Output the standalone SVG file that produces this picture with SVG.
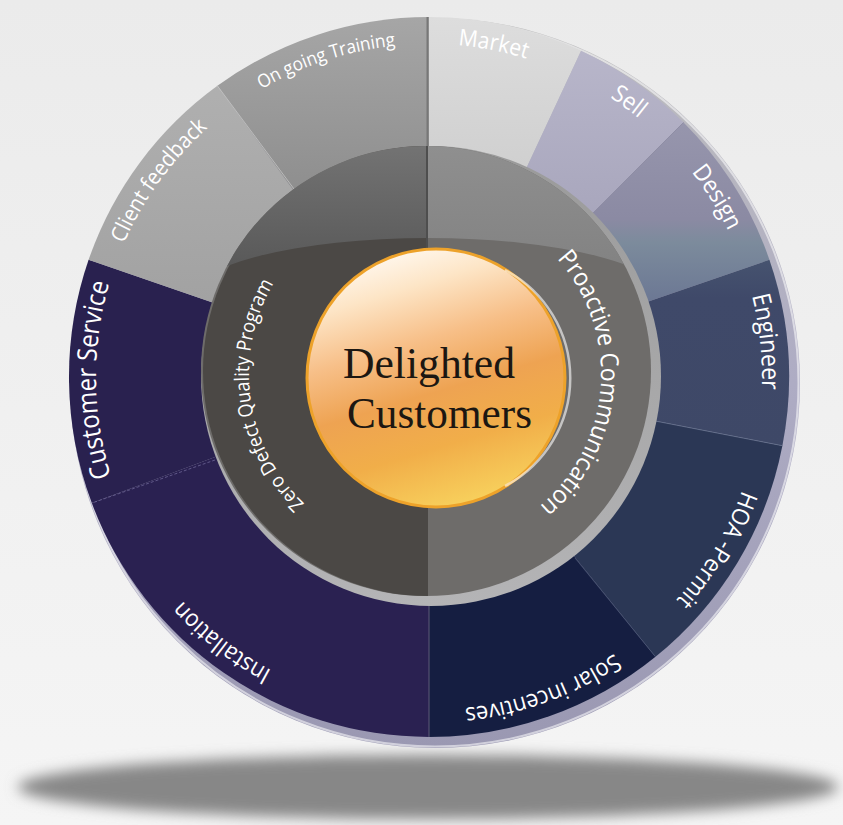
<svg xmlns="http://www.w3.org/2000/svg" xmlns:xlink="http://www.w3.org/1999/xlink" width="843" height="825" viewBox="0 0 843 825">
  <defs>
    <style>
      .lbl { font-family: "Open Sans", "Noto Sans", "DejaVu Sans", sans-serif; fill: #ffffff; }
      .core { font-family: "Liberation Serif", "DejaVu Serif", serif; fill: #1c1712; }
    </style>
    <linearGradient id="bg" x1="0" y1="0" x2="0" y2="1">
      <stop offset="0" stop-color="#ebebeb"/>
      <stop offset="1" stop-color="#f5f5f5"/>
    </linearGradient>
    <filter id="soft" x="-10%" y="-60%" width="120%" height="220%">
      <feGaussianBlur stdDeviation="7"/>
    </filter>
    <linearGradient id="rimG" gradientUnits="userSpaceOnUse" x1="0" y1="20" x2="0" y2="748">
      <stop offset="0" stop-color="#bdbdbd"/>
      <stop offset="0.5" stop-color="#aeacc4"/>
      <stop offset="1" stop-color="#9a98b2"/>
    </linearGradient>
    <linearGradient id="gMarket" gradientUnits="userSpaceOnUse" x1="0" y1="17" x2="0" y2="200">
      <stop offset="0" stop-color="#dddddd"/>
      <stop offset="1" stop-color="#cdcdcd"/>
    </linearGradient>
    <linearGradient id="gSell" gradientUnits="userSpaceOnUse" x1="0" y1="50" x2="0" y2="260">
      <stop offset="0" stop-color="#b8b6ca"/>
      <stop offset="1" stop-color="#a4a2b9"/>
    </linearGradient>
    <linearGradient id="gDesign" gradientUnits="userSpaceOnUse" x1="0" y1="120" x2="0" y2="300">
      <stop offset="0" stop-color="#9796ad"/>
      <stop offset="0.55" stop-color="#8b8aa3"/>
      <stop offset="0.68" stop-color="#7c8b9c"/>
      <stop offset="1" stop-color="#6c7894"/>
    </linearGradient>
    <linearGradient id="gEng" gradientUnits="userSpaceOnUse" x1="0" y1="260" x2="0" y2="450">
      <stop offset="0" stop-color="#46536f"/>
      <stop offset="0.2" stop-color="#3f4969"/>
      <stop offset="1" stop-color="#3e4867"/>
    </linearGradient>
    <linearGradient id="gClient" gradientUnits="userSpaceOnUse" x1="0" y1="80" x2="0" y2="300">
      <stop offset="0" stop-color="#b0b0b0"/>
      <stop offset="1" stop-color="#a2a2a2"/>
    </linearGradient>
    <linearGradient id="gTrain" gradientUnits="userSpaceOnUse" x1="0" y1="17" x2="0" y2="200">
      <stop offset="0" stop-color="#a6a6a6"/>
      <stop offset="1" stop-color="#8d8d8d"/>
    </linearGradient>
    <linearGradient id="ringRim" gradientUnits="userSpaceOnUse" x1="0" y1="146" x2="0" y2="606">
      <stop offset="0" stop-color="#9a9a9a"/>
      <stop offset="1" stop-color="#b4b4b6"/>
    </linearGradient>
    <linearGradient id="hiL" gradientUnits="userSpaceOnUse" x1="0" y1="146" x2="0" y2="280">
      <stop offset="0" stop-color="#737373"/>
      <stop offset="1" stop-color="#565656"/>
    </linearGradient>
    <linearGradient id="hiR" gradientUnits="userSpaceOnUse" x1="0" y1="146" x2="0" y2="280">
      <stop offset="0" stop-color="#8f8f8f"/>
      <stop offset="1" stop-color="#818181"/>
    </linearGradient>
    <linearGradient id="gold" x1="0.35" y1="0" x2="0.65" y2="1">
      <stop offset="0" stop-color="#fff8ef"/>
      <stop offset="0.15" stop-color="#fde5c6"/>
      <stop offset="0.35" stop-color="#f7bf88"/>
      <stop offset="0.55" stop-color="#eea352"/>
      <stop offset="0.75" stop-color="#f1ae49"/>
      <stop offset="1" stop-color="#f8d35e"/>
    </linearGradient>
    <clipPath id="ringClip">
      <circle cx="426" cy="371" r="225"/>
    </clipPath>
    <!-- label baselines, drawn clockwise from 12 o'clock -->
    <path id="outerPath" d="M429,44 A333,333 0 1 1 429,710 A333,333 0 1 1 429,44"/>
    <path id="zeroPath" d="M428,195 A179,179 0 1 1 428,553 A179,179 0 1 1 428,195"/>
    <path id="proPath" d="M428,201 A173,173 0 1 1 428,547 A173,173 0 1 1 428,201"/>
  </defs>

  <rect width="843" height="825" fill="url(#bg)"/>

  <!-- floor shadow -->
  <ellipse cx="428" cy="787" rx="410" ry="32" fill="#878787" filter="url(#soft)"/>

  <!-- disc edge -->
  <circle cx="435" cy="383" r="365" fill="url(#rimG)"/>
  <circle cx="435" cy="383" r="363.5" fill="none" stroke="#ffffff" stroke-opacity="0.55" stroke-width="2"/>

  <!-- outer ring of steps -->
  <g id="outer-ring">
    <g id="seg-market">
      <path d="M429,377 L429,17 A360,360 0 0 1 581.1,50.7 Z" fill="url(#gMarket)"/>
      <text class="lbl" font-size="23" text-anchor="middle"><textPath href="#outerPath" startOffset="3.06%" textLength="70" lengthAdjust="spacingAndGlyphs">Market</textPath></text>
    </g>
    <g id="seg-sell">
      <path d="M429,377 L581.1,50.7 A360,360 0 0 1 683.6,122.4 Z" fill="url(#gSell)"/>
      <text class="lbl" font-size="24" text-anchor="middle"><textPath href="#outerPath" startOffset="10%" textLength="36" lengthAdjust="spacingAndGlyphs">Sell</textPath></text>
    </g>
    <g id="seg-design">
      <path d="M429,377 L683.6,122.4 A360,360 0 0 1 769.4,259.8 Z" fill="url(#gDesign)"/>
      <text class="lbl" font-size="24" text-anchor="middle"><textPath href="#outerPath" startOffset="16.11%" textLength="70" lengthAdjust="spacingAndGlyphs">Design</textPath></text>
    </g>
    <g id="seg-engineer">
      <path d="M429,377 L769.4,259.8 A360,360 0 0 1 782.4,445.7 Z" fill="url(#gEng)"/>
      <text class="lbl" font-size="25" text-anchor="middle"><textPath href="#outerPath" startOffset="23.33%" textLength="95" lengthAdjust="spacingAndGlyphs">Engineer</textPath></text>
    </g>
    <g id="seg-hoa">
      <path d="M429,377 L782.4,445.7 A360,360 0 0 1 655.5,656.8 Z" fill="#2b3755"/>
      <text class="lbl" font-size="24" text-anchor="middle"><textPath href="#outerPath" startOffset="33.61%" textLength="129" lengthAdjust="spacingAndGlyphs">HOA -Permit</textPath></text>
    </g>
    <g id="seg-solar">
      <path d="M429,377 L655.5,656.8 A360,360 0 0 1 429,737 Z" fill="#151e41"/>
      <text class="lbl" font-size="24" text-anchor="middle"><textPath href="#outerPath" startOffset="44.44%" textLength="161" lengthAdjust="spacingAndGlyphs">Solar incentives</textPath></text>
    </g>
    <g id="seg-installation">
      <path d="M429,377 L429,737 A360,360 0 0 1 91.8,503.1 Z" fill="#2a2151"/>
      <text class="lbl" font-size="24" text-anchor="middle"><textPath href="#outerPath" startOffset="60.56%" textLength="114" lengthAdjust="spacingAndGlyphs">Installation</textPath></text>
    </g>
    <g id="seg-customer-service">
      <path d="M429,377 L91.8,503.1 A360,360 0 0 1 88.6,259.8 Z" fill="#29214f"/>
      <text class="lbl" font-size="27" text-anchor="middle"><textPath href="#outerPath" startOffset="74.86%" textLength="196" lengthAdjust="spacingAndGlyphs">Customer Service</textPath></text>
    </g>
    <g id="seg-client-feedback">
      <path d="M429,377 L88.6,259.8 A360,360 0 0 1 217.4,85.8 Z" fill="url(#gClient)"/>
      <text class="lbl" font-size="22" text-anchor="middle"><textPath href="#outerPath" startOffset="85%" textLength="144" lengthAdjust="spacingAndGlyphs">Client feedback</textPath></text>
    </g>
    <g id="seg-training">
      <path d="M429,377 L217.4,85.8 A360,360 0 0 1 429,17 Z" fill="url(#gTrain)"/>
      <text class="lbl" font-size="18.5" text-anchor="middle"><textPath href="#outerPath" startOffset="95%" textLength="142" lengthAdjust="spacingAndGlyphs">On going Training</textPath></text>
    </g>
    <!-- seams between steps -->
    <g fill="none" stroke-width="1">
      <line x1="427.5" y1="17" x2="427.5" y2="150" stroke="#777777" stroke-width="2"/>
      <line x1="429" y1="600" x2="429" y2="737" stroke="#5c5a78"/>
      <line x1="215" y1="460" x2="91.8" y2="503.1" stroke="#6d6596" stroke-dasharray="3 2" stroke-opacity="0.8"/>
      <line x1="650" y1="420" x2="782.4" y2="445.7" stroke="#6f7a96" stroke-opacity="0.7"/>
      <line x1="575" y1="558" x2="655.5" y2="656.8" stroke="#4e5a78" stroke-opacity="0.7"/>
      <line x1="590" y1="216" x2="683.6" y2="122.4" stroke="#8a88a0" stroke-opacity="0.8"/>
      <line x1="294" y1="189" x2="217.4" y2="85.8" stroke="#c4c4c4" stroke-opacity="0.8"/>
    </g>
  </g>

  <!-- middle ring -->
  <g id="middle-ring">
    <circle cx="431" cy="376" r="230" fill="url(#ringRim)"/>
    <circle cx="426" cy="371" r="225" fill="#6e6c6a"/>
    <path d="M428,146 A225,225 0 1 0 428,596 Z" fill="#4b4845"/>
    <g clip-path="url(#ringClip)">
      <path d="M150,300 L188,300 A240,62 0 0 1 428,238 L428,100 L150,100 Z" fill="url(#hiL)"/>
      <path d="M428,238 A240,62 0 0 1 668,300 L700,300 L700,100 L428,100 Z" fill="url(#hiR)"/>
      <line x1="427" y1="140" x2="427" y2="250" stroke="#4e4e4e" stroke-width="2"/>
    </g>
    <g id="zero-defect">
      <text class="lbl" font-size="20" text-anchor="middle"><textPath href="#zeroPath" startOffset="72.78%" textLength="240" lengthAdjust="spacingAndGlyphs">Zero Defect Quality Program</textPath></text>
    </g>
    <g id="proactive">
      <text class="lbl" font-size="25" text-anchor="middle"><textPath href="#proPath" startOffset="26.11%" textLength="277" lengthAdjust="spacingAndGlyphs">Proactive Communication</textPath></text>
    </g>
  </g>

  <!-- centre button -->
  <g id="delighted-customers">
    <circle cx="436" cy="378" r="129" fill="url(#gold)" stroke="#eda22a" stroke-width="3"/>
    <path d="M505,270 A122,122 0 0 1 505,486" fill="none" stroke="#ffffff" stroke-opacity="0.6" stroke-width="2.5"/>
    <text class="core" x="343" y="378" font-size="45" textLength="172" lengthAdjust="spacingAndGlyphs">Delighted</text>
    <text class="core" x="347" y="428" font-size="45" textLength="185" lengthAdjust="spacingAndGlyphs">Customers</text>
  </g>
</svg>
